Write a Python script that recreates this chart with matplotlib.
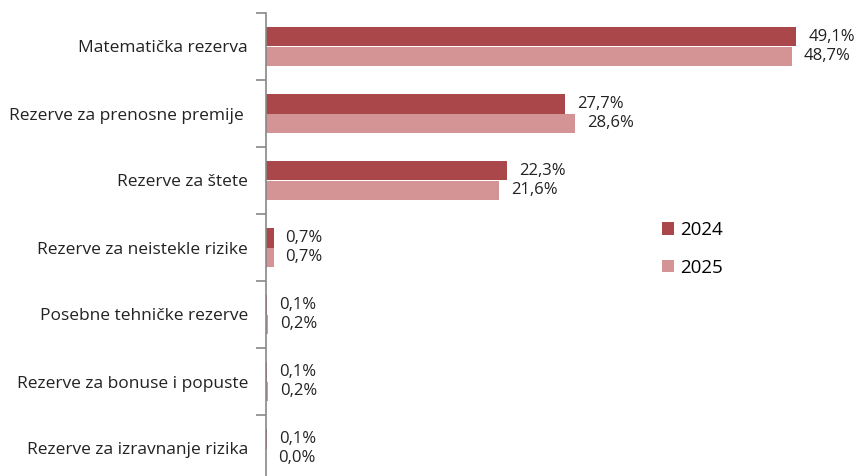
import matplotlib.pyplot as plt
import numpy as np

categories = ['Matematička rezerva', 'Rezerve za prenosne premije ', 'Rezerve za štete',
              'Rezerve za neistekle rizike', 'Posebne tehničke rezerve',
              'Rezerve za bonuse i popuste', 'Rezerve za izravnanje rizika']
v2024 = [49.1, 27.7, 22.3, 0.7, 0.1, 0.1, 0.1]
v2025 = [48.7, 28.6, 21.6, 0.7, 0.2, 0.2, 0.0]
years = ['2024', '2025']

c2024 = '#a9474a'
c2025 = '#d49394'

plt.rcParams['font.family'] = ['Open Sans', 'DejaVu Sans']

fig = plt.figure(figsize=(8.6, 4.76), dpi=100)
ax = fig.add_axes([266 / 860, 1 - 482 / 476, (860 - 266) / 860, 469 / 476])

y = np.arange(len(categories))
h = 0.285
ax.barh(y - h / 2, v2024, height=h, color=c2024, label=years[0])
ax.barh(y + h / 2, v2025, height=h, color=c2025, label=years[1])

for i in range(len(categories)):
    ax.text(v2024[i] + 1.1, y[i] - h / 2, f'{v2024[i]:.1f}%'.replace('.', ','),
            va='center', ha='left', fontsize=12, color='#222222')
    ax.text(v2025[i] + 1.1, y[i] + h / 2, f'{v2025[i]:.1f}%'.replace('.', ','),
            va='center', ha='left', fontsize=12, color='#222222')

ax.set_xlim(0, 55)
ax.set_ylim(len(categories) - 0.5, -0.5)
ax.set_yticks(y)
ax.set_yticklabels(categories, fontsize=12.5, color='#222222')
ax.tick_params(axis='y', which='major', length=0, pad=13)
ax.set_yticks(np.arange(-0.5, len(categories), 1), minor=True)
ax.tick_params(axis='y', which='minor', length=7, width=1.2, color='#888888')
ax.set_xticks([])
for s in ['top', 'right', 'bottom']:
    ax.spines[s].set_visible(False)
ax.spines['left'].set_color('#888888')
ax.spines['left'].set_linewidth(1.2)

ax.legend(loc='upper left', bbox_to_anchor=(645 / 860, 1 - 204 / 476),
          bbox_transform=fig.transFigure, frameon=False, fontsize=13.5,
          handlelength=0.65, handleheight=0.65, handletextpad=0.3, labelspacing=1.05)

fig.savefig('out.png', dpi=100)
